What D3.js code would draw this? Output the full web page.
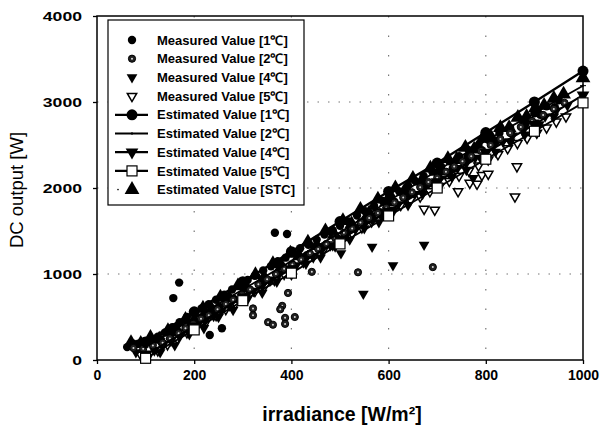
<!DOCTYPE html>
<html>
<head>
<meta charset="utf-8">
<script src="https://cdn.jsdelivr.net/npm/d3@7"></script>
<style>
  body { margin: 0; background: #fff; }
  text { font-family: "Liberation Sans", Arial, sans-serif; }
</style>
</head>
<body>
<div id="chart"></div>
<script>
// measured values [irradiance, DC output]
const meas1 = [[62,150],[70,165],[85,190],[98,215],[110,240],[125,270],[140,320],[155,380],[170,440],[185,500],[200,540],[215,600],[230,650],[245,700],[262,760],[278,820],[295,880],[310,930],[325,980],[342,1040],[358,1090],[372,1150],[388,1190],[404,1250],[418,1300],[435,1340],[452,1400],[468,1460],[485,1510],[500,1560],[518,1610],[535,1680],[552,1730],[570,1790],[588,1850],[605,1900],[622,1960],[640,2030],[655,2080],[672,2140],[690,2190],[708,2250],[725,2310],[745,2370],[765,2440],[785,2500],[805,2560],[828,2640],[850,2700],[875,2790],[900,2870],[925,2950],[950,3020],
  [75,190],[105,210],[132,230],[162,340],[192,430],[222,530],[252,620],[282,710],[312,820],[342,910],[372,1000],[402,1110],[432,1220],[462,1310],[492,1430],[522,1520],[552,1640],[582,1720],[612,1840],[642,1940],[672,2040],[702,2150],[732,2230],[762,2360],[792,2440],[822,2550],[852,2640],[882,2750],[912,2850],[942,2940],
  [157,720],[169,900],[232,290],[257,370],[366,1480],[391,1465]];
const meas2 = [[75,140],[95,130],[115,170],[135,200],[150,250],[168,310],[182,370],[198,420],[214,480],[230,520],[248,590],[265,650],[280,700],[298,760],[315,820],[332,880],[350,940],[368,1000],[385,1060],[402,1110],[420,1170],[438,1240],[455,1290],[472,1350],[490,1420],[508,1480],[525,1530],[542,1600],[560,1650],[578,1710],[595,1770],[612,1830],[630,1890],[648,1950],[665,2010],[682,2070],[700,2120],[718,2190],[735,2250],[752,2310],[770,2370],[790,2430],[810,2500],[830,2570],[850,2640],[872,2710],[895,2780],[918,2850],[940,2920],[962,2990],
  [393,780],[321,600],[321,520],[381,630],[377,590],[352,440],[362,410],[387,490],[387,420],[407,500],[442,1025],[537,1020],[691,1080]];
const meas4 = [[80,90],[100,60],[118,110],[135,160],[152,220],[170,270],[188,330],[205,400],[222,450],[240,510],[256,570],[272,630],[290,700],[306,750],[322,800],[340,860],[356,920],[374,990],[392,1040],[410,1100],[426,1150],[444,1210],[462,1270],[480,1330],[496,1400],[514,1460],[532,1520],[550,1580],[566,1630],[585,1690],[602,1750],[620,1810],[636,1880],[654,1930],[672,2000],[690,2060],[706,2110],[724,2170],[742,2230],[760,2290],[778,2350],[796,2420],[815,2480],[835,2540],[855,2610],[878,2680],[900,2760],[922,2830],[945,2900],[968,2960],
  [130,90],[160,170],[190,300],[220,370],[250,500],[280,580],[310,710],[340,780],[370,910],[400,990],[430,1120],[460,1190],[490,1320],[520,1400],[550,1530],[580,1600],[610,1730],[640,1800],[670,1930],[700,2010],[730,2130],[760,2210],[790,2340],[820,2420],[850,2540],[880,2620],[910,2740],[940,2830],
  [502,1240],[566,1315],[609,1100],[673,1340],[548,770],[774,2115]];
const meas5 = [[90,60],[108,70],[125,110],[145,180],[165,250],[185,320],[205,390],[225,450],[245,520],[265,590],[285,660],[305,730],[325,800],[345,860],[365,930],[385,1000],[405,1070],[425,1140],[445,1200],[465,1270],[485,1340],[505,1410],[525,1470],[545,1540],[565,1610],[585,1680],[605,1740],[625,1800],[645,1860],[665,1900],[685,1960],[705,2020],[725,2080],[745,2140],[765,2200],[785,2260],[805,2330],[825,2390],[845,2460],[865,2520],[885,2580],[905,2640],[925,2700],[945,2770],[965,2830],
  [864,2250],[860,1900],[743,1960],[695,1745],[673,1755],[767,2058],[782,2047],[792,2150],[805,2163]];

// estimated values
const estSTC = [[70,200],[90,190],[110,260],[128,240],[146,340],[164,350],[182,470],[200,460],[218,600],[236,590],[254,730],[272,720],[290,860],[308,840],[326,990],[344,960],[362,1120],[380,1090],[398,1240],[416,1210],[434,1370],[452,1330],[470,1500],[488,1460],[506,1620],[524,1580],[542,1750],[560,1710],[578,1870],[596,1840],[614,2000],[632,1960],[650,2110],[668,2080],[686,2230],[704,2200],[722,2340],[740,2330],[758,2470],[776,2450],[794,2580],[812,2580],[830,2700],[848,2700],[866,2820],[884,2830],[902,2930],[920,2960],[940,3040],[960,3090],[1000,3280]];
const est1 = [[100,210],[200,560],[300,910],[400,1260],[500,1610],[600,1960],[700,2290],[800,2645],[900,3000],[1000,3360]];
const est2 = [[100,150],[200,490],[300,820],[400,1150],[500,1480],[600,1850],[700,2200],[800,2550],[900,2870],[1000,3190]];
const est4 = [[100,60],[200,390],[300,730],[400,1060],[500,1400],[600,1730],[700,2070],[800,2410],[900,2740],[1000,3080]];
const est5 = [[100,20],[200,350],[300,690],[400,1010],[500,1350],[600,1675],[700,2000],[800,2335],[900,2660],[1000,2990]];

const xTicks = [0, 200, 400, 600, 800, 1000];
const yTicks = [0, 1000, 2000, 3000, 4000];
const legendLabels = ["Measured Value [1℃]", "Measured Value [2℃]", "Measured Value [4℃]", "Measured Value [5℃]",
  "Estimated Value [1℃]", "Estimated Value [2℃]", "Estimated Value [4℃]", "Estimated Value [5℃]", "Estimated Value [STC]"];

const width = 606, height = 432;
const m = { t: 16, r: 23, b: 72, l: 97 };

const svg = d3.select("#chart").append("svg")
  .attr("width", width)
  .attr("height", height);

const x = d3.scaleLinear().domain([0, 1000]).range([m.l, width - m.r]);
const y = d3.scaleLinear().domain([0, 4000]).range([height - m.b, m.t]);

// dotted grid
svg.append("g").selectAll("line")
  .data(xTicks.slice(1, -1))
  .enter().append("line")
  .attr("x1", d => x(d)).attr("x2", d => x(d))
  .attr("y1", y(4000)).attr("y2", y(0))
  .attr("stroke", "#777").attr("stroke-width", 1.2)
  .attr("stroke-dasharray", "1.5,18");
svg.append("g").selectAll("line")
  .data(yTicks.slice(1, -1))
  .enter().append("line")
  .attr("x1", x(0)).attr("x2", x(1000))
  .attr("y1", d => y(d)).attr("y2", d => y(d))
  .attr("stroke", "#777").attr("stroke-width", 1.2)
  .attr("stroke-dasharray", "1.5,9");

// axes
svg.append("g")
  .attr("transform", `translate(0,${y(0)})`)
  .call(d3.axisBottom(x).tickValues(xTicks).tickSize(4).tickPadding(6).tickFormat(d3.format("d")))
  .call(g => g.select(".domain").remove())
  .call(g => g.selectAll("line").attr("stroke", "#000").attr("stroke-width", 1.3))
  .call(g => g.selectAll("text").attr("font-size", "14px").attr("font-weight", "bold").attr("fill", "#000"));

svg.append("g")
  .attr("transform", `translate(${x(0)},0)`)
  .call(d3.axisLeft(y).tickValues(yTicks).tickSize(4).tickPadding(11).tickFormat(d3.format("d")))
  .call(g => g.select(".domain").remove())
  .call(g => g.selectAll("line").attr("stroke", "#000").attr("stroke-width", 1.3))
  .call(g => g.selectAll("text").attr("font-size", "13.5px").attr("font-weight", "bold").attr("fill", "#000")
    .attr("textLength", d => String(d).length * 9.8).attr("lengthAdjust", "spacingAndGlyphs"));

svg.append("rect")
  .attr("x", x(0)).attr("y", y(4000))
  .attr("width", x(1000) - x(0)).attr("height", y(0) - y(4000))
  .attr("fill", "none").attr("stroke", "#000").attr("stroke-width", 1.5);

const sym = (type, size) => d3.symbol().type(type).size(size)();
const triUp = s => sym(d3.symbolTriangle, s);

const plot = svg.append("g");

function drawPoints(data, draw) {
  data.forEach(d => {
    const g = plot.append("g").attr("transform", `translate(${x(d[0])},${y(d[1])})`);
    draw(g);
  });
}

const mark = {
  m1: g => g.append("circle").attr("r", 4.2).attr("fill", "#000"),
  m2: g => {
    g.append("circle").attr("r", 3.6).attr("fill", "#222").attr("stroke", "#000").attr("stroke-width", 1);
    g.append("circle").attr("r", 1).attr("fill", "#ddd");
  },
  m4: g => g.append("path").attr("d", triUp(50)).attr("transform", "rotate(180)").attr("fill", "#000"),
  m5: g => g.append("path").attr("d", triUp(38)).attr("transform", "rotate(180)")
    .attr("fill", "#fff").attr("stroke", "#000").attr("stroke-width", 1.5),
  e1: g => g.append("circle").attr("r", 5.5).attr("fill", "#000"),
  e2: g => g.append("path").attr("d", "M-3,0H3M0,-1.5V1.5").attr("stroke", "#000").attr("stroke-width", 1),
  e4: g => g.append("path").attr("d", triUp(70)).attr("transform", "rotate(180)").attr("fill", "#000"),
  e5: g => g.append("rect").attr("x", -5).attr("y", -5).attr("width", 10).attr("height", 10)
    .attr("fill", "#fff").attr("stroke", "#000").attr("stroke-width", 1.2),
  stc: g => g.append("path").attr("d", triUp(95)).attr("fill", "#000")
};

drawPoints(meas5, mark.m5);
drawPoints(meas4, mark.m4);
drawPoints(meas1, mark.m1);
drawPoints(estSTC, mark.stc);
drawPoints(meas2, mark.m2);

const line = d3.line().x(d => x(d[0])).y(d => y(d[1]));
[[est1, 2.4, mark.e1], [est2, 1.8, mark.e2], [est4, 2.2, mark.e4], [est5, 1.8, mark.e5]].forEach(([data, w, mk]) => {
  plot.append("path").datum(data)
    .attr("d", line).attr("fill", "none").attr("stroke", "#000").attr("stroke-width", w);
  drawPoints(data, mk);
});

// legend
const lg = svg.append("g");
lg.append("rect")
  .attr("x", 108).attr("y", 20).attr("width", 196).attr("height", 185)
  .attr("fill", "#fff").attr("stroke", "#000").attr("stroke-width", 1.2);
const legendMarks = [mark.m1, mark.m2, mark.m4, mark.m5, mark.e1, mark.e2, mark.e4, mark.e5, mark.stc];
const legendLine = [false, false, false, false, true, true, true, true, false];
legendLabels.forEach((label, i) => {
  const ly = 40 + i * 18.7;
  if (legendLine[i]) {
    lg.append("line").attr("x1", 115).attr("x2", 148).attr("y1", ly).attr("y2", ly)
      .attr("stroke", "#000").attr("stroke-width", i === 5 ? 1.8 : 2.2);
  }
  if (i === 8) {
    lg.append("circle").attr("cx", 118).attr("cy", ly).attr("r", 0.8).attr("fill", "#000");
  }
  const g = lg.append("g").attr("transform", `translate(132,${ly})`);
  legendMarks[i](g);
  lg.append("text").attr("x", 157).attr("y", ly).attr("dy", "0.36em")
    .attr("font-size", "13px").attr("font-weight", "bold").text(label);
});

// axis titles
svg.append("text")
  .attr("transform", `translate(23,${(y(0) + y(4000)) / 2 + 2}) rotate(-90)`)
  .attr("text-anchor", "middle")
  .attr("font-size", "18.5px")
  .text("DC output [W]");

svg.append("text")
  .attr("x", (x(0) + x(1000)) / 2 + 2).attr("y", 421)
  .attr("text-anchor", "middle")
  .attr("font-size", "19.5px").attr("font-weight", "bold")
  .text("irradiance [W/m²]");
</script>
</body>
</html>
